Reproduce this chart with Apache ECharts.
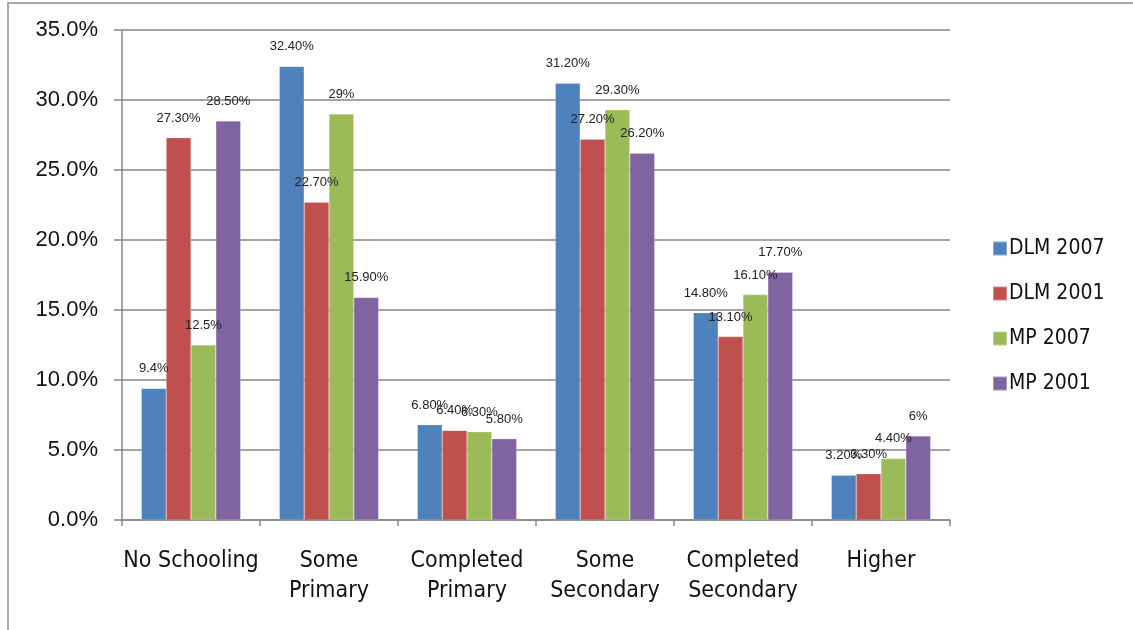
<!DOCTYPE html>
<html><head><meta charset="utf-8">
<script src="https://cdn.jsdelivr.net/npm/echarts@6/dist/echarts.min.js"></script>
<style>html,body{margin:0;padding:0;background:#fff}#c{width:1133px;height:630px}</style>
</head><body><div id="c"></div>
<script>
var categories = ['No Schooling', 'Some\nPrimary', 'Completed\nPrimary', 'Some\nSecondary', 'Completed\nSecondary', 'Higher'];
var seriesNames = ['DLM 2007', 'DLM 2001', 'MP 2007', 'MP 2001'];
var dlm2007 = [9.4, 32.4, 6.8, 31.2, 14.8, 3.2];
var dlm2001 = [27.3, 22.7, 6.4, 27.2, 13.1, 3.3];
var mp2007 = [12.5, 29.0, 6.3, 29.3, 16.1, 4.4];
var mp2001 = [28.5, 15.9, 5.8, 26.2, 17.7, 6.0];
var dlm2007Labels = ['9.4%', '32.40%', '6.80%', '31.20%', '14.80%', '3.20%'];
var dlm2001Labels = ['27.30%', '22.70%', '6.40%', '27.20%', '13.10%', '3.30%'];
var mp2007Labels = ['12.5%', '29%', '6.30%', '29.30%', '16.10%', '4.40%'];
var mp2001Labels = ['28.50%', '15.90%', '5.80%', '26.20%', '17.70%', '6%'];
var yTicks = ['0.0%', '5.0%', '10.0%', '15.0%', '20.0%', '25.0%', '30.0%', '35.0%'];
var colors = ['#4F81BD', '#C0504D', '#9BBB59', '#8064A2'];

var values = [dlm2007, dlm2001, mp2007, mp2001];
var labels = [dlm2007Labels, dlm2001Labels, mp2007Labels, mp2001Labels];
var sans = "'Liberation Sans', Arial, sans-serif";
var narrow = "'DejaVu Sans Condensed', sans-serif";

var chart = echarts.init(document.getElementById('c'), null, {renderer: 'canvas'});
var series = seriesNames.map(function (n, i) {
  return {
    name: n, type: 'bar', data: values[i],
    barGap: '0%', barCategoryGap: '28%',
    itemStyle: {color: colors[i], borderColor: 'rgba(255,255,255,0.35)', borderWidth: 0.5},
    label: {
      show: true, position: 'top', distance: 13,
      fontFamily: sans, fontSize: 13, color: '#222',
      formatter: (function (arr) { return function (p) { return arr[p.dataIndex]; }; })(labels[i])
    }
  };
});

chart.setOption({
  animation: false,
  color: colors,
  graphic: [{type: 'rect', shape: {x: 8, y: 3, width: 1200, height: 700}, style: {fill: 'none', stroke: '#8c8c8c', lineWidth: 1.5}, silent: true}],
  grid: {left: 122, right: 183, top: 30, bottom: 110, containLabel: false},
  legend: {
    orient: 'vertical', left: 987, top: 233, itemWidth: 14, itemHeight: 14, itemGap: 24,
    icon: 'rect',
    textStyle: {fontFamily: narrow, fontSize: 21, color: '#111', padding: [0,0,0,-3]},
    data: seriesNames
  },
  xAxis: {
    type: 'category', data: categories,
    axisLine: {lineStyle: {color: '#868686', width: 1.5}},
    axisTick: {show: true, alignWithLabel: false, length: 6, lineStyle: {color: '#868686', width: 1.5}},
    axisLabel: {fontFamily: narrow, fontSize: 23, color: '#111', margin: 26, lineHeight: 30, interval: 0}
  },
  yAxis: {
    type: 'value', min: 0, max: 35, interval: 5,
    axisLine: {show: true, lineStyle: {color: '#868686', width: 1.5}},
    axisTick: {show: true, length: 8, lineStyle: {color: '#868686', width: 1.5}},
    splitLine: {lineStyle: {color: '#868686', width: 1.5}},
    axisLabel: {fontFamily: sans, fontSize: 22, color: '#111', margin: 24,
      formatter: function (v) { return yTicks[Math.round(v / 5)]; }}
  },
  series: series
});
</script></body></html>
